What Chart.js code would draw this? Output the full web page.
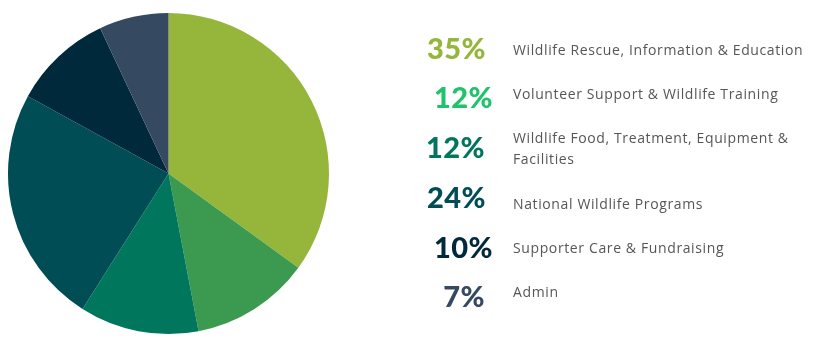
<!DOCTYPE html>
<html>
<head>
<meta charset="utf-8">
<script src="https://cdn.jsdelivr.net/npm/chart.js@4"></script>
<style>
  html, body { margin: 0; padding: 0; background: #fff; }
  #wrap { position: relative; width: 820px; height: 347px; }
  #chart { position: absolute; left: 0; top: 0; }
  .pct {
    position: absolute; text-align: right; width: 80px;
    font-family: Lato, sans-serif; font-weight: 900; font-size: 29px;
    line-height: 29px; letter-spacing: 0.5px;
  }
  .lbl {
    position: absolute; left: 513px;
    font-family: "Open Sans", sans-serif; font-size: 14px; line-height: 21px;
    color: #555658; letter-spacing: 0.62px;
  }
</style>
</head>
<body>
<div id="wrap">
  <canvas id="chart" width="820" height="347"></canvas>
</div>
<script>
const categories = [
  'Wildlife Rescue, Information & Education',
  'Volunteer Support & Wildlife Training',
  'Wildlife Food, Treatment, Equipment & Facilities',
  'National Wildlife Programs',
  'Supporter Care & Fundraising',
  'Admin'
];
const shares = [35, 12, 12, 24, 10, 7];
const sliceColors = ['#95b63a', '#3b9a4f', '#00765c', '#004d55', '#002a3b', '#354a60'];
const textColors = ['#95b63a', '#1ec46b', '#00765c', '#004d55', '#002a3b', '#354a60'];

// legend rows: percent centre y, percent right edge, label centre y
const rows = [
  { y: 48, right: 486, ly: 49 },
  { y: 97, right: 493, ly: 93 },
  { y: 147, right: 485, ly: 148 },
  { y: 197, right: 486, ly: 203 },
  { y: 247, right: 493, ly: 247 },
  { y: 296, right: 485, ly: 291 }
];

const wrap = document.getElementById('wrap');
categories.forEach((name, i) => {
  const r = rows[i];
  const p = document.createElement('div');
  p.className = 'pct';
  p.textContent = shares[i] + '%';
  p.style.color = textColors[i];
  p.style.left = (r.right - 80) + 'px';
  p.style.top = (r.y - 15) + 'px';
  wrap.appendChild(p);

  const l = document.createElement('div');
  l.className = 'lbl';
  l.style.width = '295px';
  l.textContent = name;
  wrap.appendChild(l);
  const lines = Math.round(l.offsetHeight / 21);
  l.style.top = (r.ly - lines * 21 / 2) + 'px';
});

const ctx = document.getElementById('chart').getContext('2d');
new Chart(ctx, {
  type: 'pie',
  data: {
    labels: categories,
    datasets: [{
      data: shares,
      backgroundColor: sliceColors,
      borderWidth: 0
    }]
  },
  options: {
    responsive: false,
    animation: false,
    layout: { padding: { left: 8, top: 13, right: 491, bottom: 13 } },
    plugins: {
      legend: { display: false },
      tooltip: { enabled: false }
    }
  }
});
</script>
</body>
</html>
